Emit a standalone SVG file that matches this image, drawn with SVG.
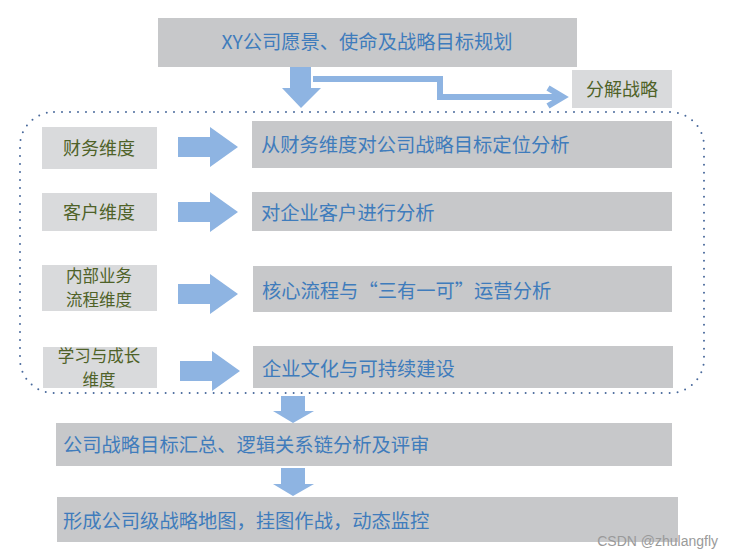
<svg xmlns="http://www.w3.org/2000/svg" width="733" height="558" viewBox="0 0 733 558">
<style>
.dk{fill:#c7c8ca}
.lt{fill:#d9dadc}
.bt{font-family:"Noto Sans CJK SC","Liberation Sans",sans-serif;font-size:19.3px;fill:#3f7cbc}
.gt{font-family:"Noto Sans CJK SC","Liberation Sans",sans-serif;font-size:18px;fill:#4f6228}
.g2{font-family:"Noto Sans CJK SC","Liberation Sans",sans-serif;font-size:16.5px;fill:#4f6228}
.ar{fill:#8eb4e2}
</style>
<defs>
<path id="rarrow" d="M0,-10 H32 V-20 L60,0 L32,20 V10 H0 Z"/>
</defs>
<rect width="733" height="558" fill="#ffffff"/>

<g id="border">
<rect x="20" y="112" width="684" height="281" rx="34" ry="34" fill="none" stroke="#4a6a9c" stroke-width="2" stroke-dasharray="0 8" stroke-linecap="round"/>
</g>

<g id="vision">
<rect class="dk" x="158" y="18" width="419" height="49"/>
<text class="bt" x="367" y="49" text-anchor="middle" font-size="18">XY公司愿景、使命及战略目标规划</text>
</g>

<g id="decompose">
<rect class="lt" x="572" y="70" width="100" height="38"/>
<text class="gt" x="622" y="96" text-anchor="middle">分解战略</text>
</g>

<g id="dim1">
<rect class="lt" x="42" y="127" width="115" height="42"/>
<text class="gt" x="99" y="155" text-anchor="middle">财务维度</text>
</g>
<g id="dim2">
<rect class="lt" x="42" y="193" width="115" height="38"/>
<text class="gt" x="99" y="219" text-anchor="middle">客户维度</text>
</g>
<g id="dim3">
<rect class="lt" x="42" y="265" width="115" height="46"/>
<text class="g2" x="99" y="282" text-anchor="middle">内部业务</text>
<text class="g2" x="99" y="306" text-anchor="middle">流程维度</text>
</g>
<g id="dim4">
<rect class="lt" x="43" y="347" width="114" height="41"/>
<text class="g2" x="99" y="362" text-anchor="middle">学习与成长</text>
<text class="g2" x="99" y="386" text-anchor="middle">维度</text>
</g>

<g id="res1">
<rect class="dk" x="252" y="121" width="420" height="47"/>
<text class="bt" x="261" y="152">从财务维度对公司战略目标定位分析</text>
</g>
<g id="res2">
<rect class="dk" x="252" y="192" width="420" height="39"/>
<text class="bt" x="261" y="220">对企业客户进行分析</text>
</g>
<g id="res3">
<rect class="dk" x="253" y="266" width="419" height="46"/>
<text class="bt" x="262" y="298">核心流程与“三有一可”运营分析</text>
</g>
<g id="res4">
<rect class="dk" x="253" y="346" width="420" height="42"/>
<text class="bt" x="262" y="376">企业文化与可持续建设</text>
</g>

<g id="summary">
<rect class="dk" x="56" y="423" width="616" height="43"/>
<text class="bt" x="63" y="452">公司战略目标汇总、逻辑关系链分析及评审</text>
</g>
<g id="map">
<rect class="dk" x="57" y="497" width="621" height="45"/>
<text class="bt" x="63" y="528">形成公司级战略地图，挂图作战，动态监控</text>
</g>

<g id="connectors">
<path class="ar" d="M290,67 H311 V88 H321 L301,108 L282,88 H290 Z"/>
<path d="M313,79 H440 V97 H560" fill="none" stroke="#8eb4e2" stroke-width="6"/>
<path d="M548,88 L563,97 L548,106" fill="none" stroke="#8eb4e2" stroke-width="6"/>
<use href="#rarrow" class="ar" x="178" y="147"/>
<use href="#rarrow" class="ar" x="178" y="212"/>
<use href="#rarrow" class="ar" x="178" y="294"/>
<use href="#rarrow" class="ar" x="180" y="371"/>
<path class="ar" d="M281,396 H305 V411 H314 L293,423 L273,411 H281 Z"/>
<path class="ar" d="M281,468 H305 V484 H314 L293,496 L273,484 H281 Z"/>
</g>

<text x="718" y="546" text-anchor="end" font-family="Liberation Sans, sans-serif" font-size="14" fill="#9a9a9a">CSDN @zhulangfly</text>
</svg>
